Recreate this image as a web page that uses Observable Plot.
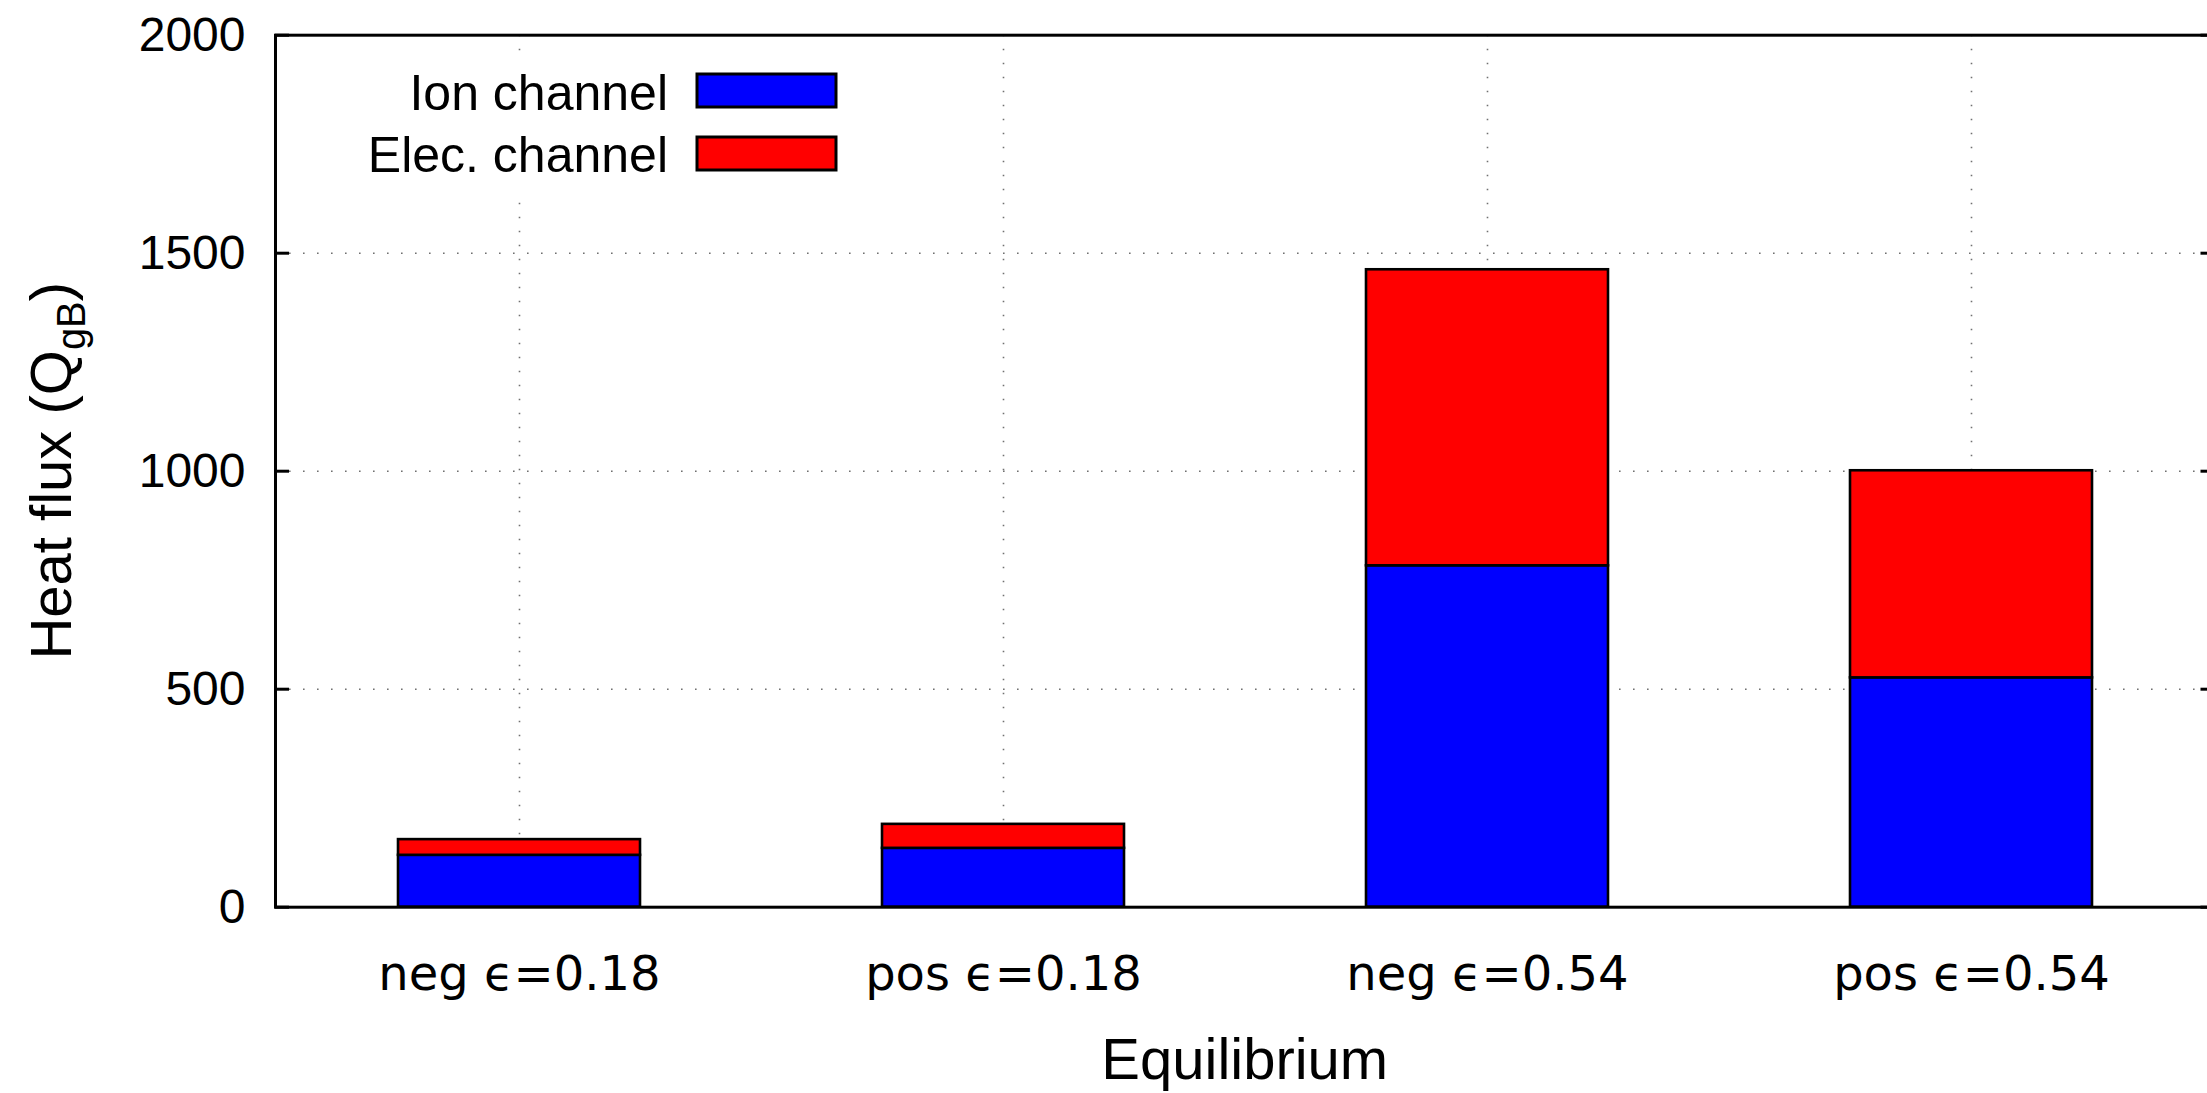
<!DOCTYPE html>
<html><head><meta charset="utf-8">
<script src="https://cdn.jsdelivr.net/npm/d3@7"></script>
<script src="https://cdn.jsdelivr.net/npm/@observablehq/plot@0.6"></script>
<style>
html,body{margin:0;padding:0;background:#fff;overflow:hidden;}
#chart{position:relative;width:2207px;height:1093px;overflow:hidden;}
</style></head><body><div id="chart"></div>
<script>
const categories = ["neg ϵ=0.18", "pos ϵ=0.18", "neg ϵ=0.54", "pos ϵ=0.54"];
const series = ["Ion channel", "Elec. channel"];
const ionFlux = [119, 135, 783, 526];
const elecFlux = [36, 55, 679, 475];
const yTicks = [0, 500, 1000, 1500, 2000];
const gridTicks = [500, 1000, 1500];
const colors = ["#0000ff", "#ff0000"];
const yLabelMain = "Heat flux (Q";
const yLabelSub = "gB";
const xLabel = "Equilibrium";

const rows = [
  ...categories.map((c, i) => ({cat: c, channel: series[0], value: ionFlux[i]})),
  ...categories.map((c, i) => ({cat: c, channel: series[1], value: elecFlux[i]}))
];

const W = 2207, H = 1093;
const mL = 275, mR = -7.5, mT = 34.7, mB = 186.3;
const plotW = W - mL - mR;
const tickLen = 14;

const chart = Plot.plot({
  width: W, height: H,
  marginTop: mT, marginBottom: mB, marginLeft: mL, marginRight: mR,
  style: {background: "white", overflow: "hidden"},
  x: {domain: categories, paddingInner: 0.5, paddingOuter: 0.25, align: 0.5, axis: null, label: null},
  y: {domain: [0, 2000], axis: null, label: null},
  color: {domain: series, range: colors},
  marks: [
    Plot.ruleY(gridTicks, {stroke: "#707070", strokeWidth: 1.6, strokeDasharray: "1.6,12.4"}),
    Plot.ruleX(categories, {x: d => d, stroke: "#707070", strokeWidth: 1.6, strokeDasharray: "1.6,12.4"}),
    Plot.barY(rows, {x: "cat", y: "value", fill: "channel", stroke: "black", strokeWidth: 2.6}),
    Plot.ruleY(yTicks, {insetRight: plotW - tickLen, stroke: "black", strokeWidth: 3}),
    Plot.ruleY(yTicks, {insetLeft: plotW - tickLen, stroke: "black", strokeWidth: 3}),
    Plot.frame({stroke: "black", strokeWidth: 3}),
    Plot.axisY(yTicks, {tickSize: 0, tickPadding: 30, tickFormat: d => String(d), fontSize: 48, fontFamily: "Liberation Sans", fill: "black", label: null}),
    Plot.axisX({tickSize: 0, tickPadding: 49, fontSize: 48, fontFamily: "DejaVu Sans", fill: "black", label: null})
  ]
});
document.getElementById("chart").appendChild(chart);

const svg = d3.select(chart.tagName.toLowerCase() === "svg" ? chart : chart.querySelector("svg"));

// y-axis label
const cy = (mT + (H - mB)) / 2;
const yl = svg.append("text")
  .attr("transform", `translate(71,${cy}) rotate(-90)`)
  .attr("text-anchor", "middle")
  .attr("font-family", "Liberation Sans")
  .attr("font-size", 58)
  .attr("fill", "black");
yl.append("tspan").text(yLabelMain);
yl.append("tspan").attr("font-size", 40).attr("dy", 14).text(yLabelSub);
yl.append("tspan").attr("dy", -14).text(")");

// x-axis label
svg.append("text")
  .attr("x", mL + plotW / 2).attr("y", 1079)
  .attr("text-anchor", "middle")
  .attr("font-family", "Liberation Sans")
  .attr("font-size", 58)
  .attr("fill", "black")
  .text(xLabel);

// legend (opaque key)
const lg = svg.append("g");
lg.append("rect").attr("x", 355).attr("y", 62).attr("width", 495).attr("height", 131).attr("fill", "white");
const baselines = [110, 172];
const swY = [74, 137];
series.forEach((s, i) => {
  lg.append("text").attr("x", 668).attr("y", baselines[i])
    .attr("text-anchor", "end").attr("font-family", "Liberation Sans")
    .attr("font-size", 50).attr("fill", "black").text(s);
  lg.append("rect").attr("x", 697).attr("y", swY[i]).attr("width", 139).attr("height", 33)
    .attr("fill", colors[i]).attr("stroke", "black").attr("stroke-width", 3);
});
</script></body></html>
